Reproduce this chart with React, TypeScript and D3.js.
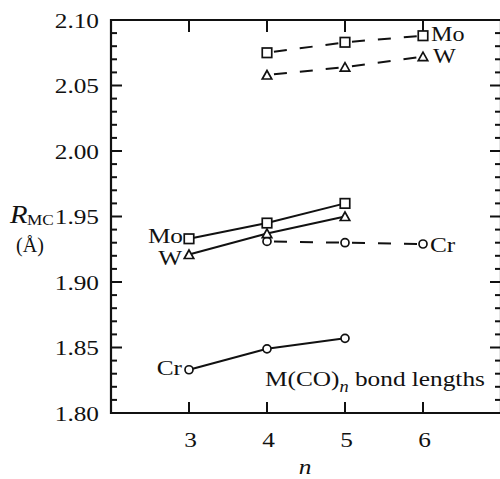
import React from "react";
import * as d3 from "d3";

// Metal–carbon bond lengths in M(CO)n complexes
const nSolid = [3, 4, 5];
const moSolid = [1.933, 1.945, 1.96];
const wSolid = [1.921, 1.937, 1.95];
const crSolid = [1.833, 1.849, 1.857];

const nDashed = [4, 5, 6];
const moDashed = [2.075, 2.083, 2.088];
const wDashed = [2.058, 2.064, 2.072];
const crDashed = [1.931, 1.93, 1.929];

const xTickValues = [3, 4, 5, 6];
const yTickLabels = ["1.80", "1.85", "1.90", "1.95", "2.00", "2.05", "2.10"];

const W = 500;
const H = 479;
const FONT = "'Liberation Serif', 'Times New Roman', serif";
const SX = 1.15;

const x = d3.scaleLinear().domain([2, 7]).range([111, 501]);
const y = d3.scaleLinear().domain([1.8, 2.1]).range([413, 20]);

type Marker = "square" | "triangle" | "circle";

function T({ x: tx, y: ty, anchor = "start", size = 22, italic = false, children }: any) {
  return (
    <text
      transform={`translate(${tx},${ty}) scale(${SX},1)`}
      textAnchor={anchor}
      fontFamily={FONT}
      fontSize={size}
      fontStyle={italic ? "italic" : "normal"}
      fill="#111"
    >
      {children}
    </text>
  );
}

function MarkerShape({ kind, cx, cy }: { kind: Marker; cx: number; cy: number }) {
  const common = { fill: "#fff", stroke: "#111", strokeWidth: 1.7 };
  if (kind === "square") {
    const s = 9.5;
    return <rect x={cx - s / 2} y={cy - s / 2} width={s} height={s} {...common} />;
  }
  if (kind === "circle") {
    return <circle cx={cx} cy={cy} r={4} {...common} />;
  }
  const w = 9.5;
  const h = 8;
  const pts = `${cx},${cy - h / 2 - 0.5} ${cx - w / 2},${cy + h / 2} ${cx + w / 2},${cy + h / 2}`;
  return <polygon points={pts} {...common} strokeLinejoin="miter" />;
}

function Series({ ns, vals, kind, dashed }: { ns: number[]; vals: number[]; kind: Marker; dashed: boolean }) {
  const pts = ns.map((n, i) => [x(n), y(vals[i])] as [number, number]);
  const segs = d3.pairs(pts);
  return (
    <g>
      {segs.map(([a, b], i) => (
        <line
          key={i}
          x1={a[0]}
          y1={a[1]}
          x2={b[0]}
          y2={b[1]}
          stroke="#111"
          strokeWidth={2}
          strokeDasharray={dashed ? "13 13" : undefined}
          strokeDashoffset={dashed ? 19 : undefined}
        />
      ))}
      {pts.map((p, i) => (
        <MarkerShape key={i} kind={kind} cx={p[0]} cy={p[1]} />
      ))}
    </g>
  );
}

export default function App() {
  const [x0, x1] = x.range();
  const [yb, yt] = y.range();
  const majorY = yTickLabels.map((s) => +s);
  const minorY = y.ticks(30).filter((v) => !majorY.some((m) => Math.abs(m - v) < 1e-6));

  return (
    <svg
      width={W}
      height={H}
      style={{ position: "absolute", left: 0, top: 0, display: "block", background: "#fff" }}
    >
      <rect x={0} y={0} width={W} height={H} fill="#fff" />

      {/* frame */}
      <g stroke="#111" strokeWidth={2.2} fill="none">
        <line x1={x0} y1={yb} x2={x1} y2={yb} />
        <line x1={x0} y1={yt} x2={x1} y2={yt} />
        <line x1={x0} y1={yb + 1} x2={x0} y2={yt - 1} />
        <line x1={x1} y1={yb + 1} x2={x1} y2={yt - 1} />
      </g>

      {/* y ticks, left and right, pointing inward */}
      <g stroke="#111" strokeWidth={2}>
        {majorY.map((v) => (
          <g key={"M" + v}>
            <line x1={x0} x2={x0 + 11} y1={y(v)} y2={y(v)} />
            <line x1={x1} x2={x1 - 11} y1={y(v)} y2={y(v)} />
          </g>
        ))}
        {minorY.map((v) => (
          <g key={"m" + v}>
            <line x1={x0} x2={x0 + 6} y1={y(v)} y2={y(v)} />
            <line x1={x1} x2={x1 - 6} y1={y(v)} y2={y(v)} />
          </g>
        ))}
      </g>

      {/* x ticks, bottom and top */}
      <g stroke="#111" strokeWidth={2}>
        {xTickValues.map((n) => (
          <g key={n}>
            <line x1={x(n)} x2={x(n)} y1={yb} y2={yb - 11} />
            <line x1={x(n)} x2={x(n)} y1={yt} y2={yt + 12} />
          </g>
        ))}
      </g>

      {/* tick labels */}
      {yTickLabels.map((s) => (
        <T key={s} x={99} y={y(+s) + 7.5} anchor="end">
          {s}
        </T>
      ))}
      {xTickValues.map((n) => (
        <T key={n} x={x(n) + 1.5} y={447} anchor="middle">
          {n}
        </T>
      ))}

      {/* axis titles */}
      <T x={10} y={223} size={25} italic>
        R
      </T>
      <T x={27} y={225} size={15}>
        MC
      </T>
      <text x={30} y={252} textAnchor="middle" fontFamily={FONT} fontSize={20} fill="#111">
        (Å)
      </text>
      <T x={305} y={474} anchor="middle" italic>
        n
      </T>

      {/* data */}
      <Series ns={nDashed} vals={crDashed} kind="circle" dashed />
      <Series ns={nDashed} vals={moDashed} kind="square" dashed />
      <Series ns={nDashed} vals={wDashed} kind="triangle" dashed />
      <Series ns={nSolid} vals={wSolid} kind="triangle" dashed={false} />
      <Series ns={nSolid} vals={moSolid} kind="square" dashed={false} />
      <Series ns={nSolid} vals={crSolid} kind="circle" dashed={false} />

      {/* series labels */}
      <T x={183} y={243} anchor="end">Mo</T>
      <T x={182} y={265} anchor="end">W</T>
      <T x={182} y={375} anchor="end">Cr</T>
      <T x={431} y={41} size={21}>Mo</T>
      <T x={433} y={63} size={21}>W</T>
      <T x={430} y={252}>Cr</T>

      {/* annotation */}
      <T x={265} y={386}>
        M(CO)
        <tspan fontStyle="italic" fontSize={16} dy={6}>
          n
        </tspan>
        <tspan dy={-6}> bond lengths</tspan>
      </T>
    </svg>
  );
}
